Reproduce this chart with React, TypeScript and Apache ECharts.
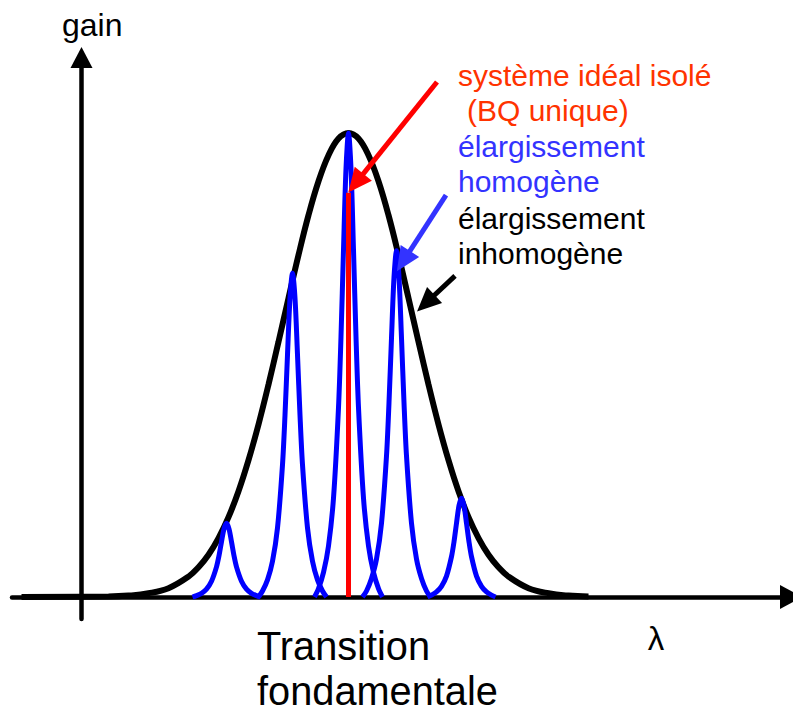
import React, { useEffect, useRef } from "react";
import * as echarts from "echarts";

// λ axis in arbitrary units, gain normalised to the envelope maximum (= 1)
const ENVELOPE: [number, number][] = [
  [-6.0, 0], [2.7, 0.001], [4.7, 0.003], [6.7, 0.008], [8.7, 0.019], [10.7, 0.044],
  [11.7, 0.064], [12.7, 0.091], [13.7, 0.127], [14.7, 0.172], [15.7, 0.228], [16.7, 0.295],
  [17.7, 0.372], [18.7, 0.458], [19.7, 0.55], [20.7, 0.644], [21.7, 0.737], [22.7, 0.823],
  [23.7, 0.896], [24.7, 0.952], [25.7, 0.988], [26.7, 1.0], [27.7, 0.988], [28.7, 0.952],
  [29.7, 0.896], [30.7, 0.823], [31.7, 0.737], [32.7, 0.644], [33.7, 0.55], [34.7, 0.458],
  [35.7, 0.372], [36.7, 0.295], [37.7, 0.228], [38.7, 0.172], [39.7, 0.127], [40.7, 0.091],
  [41.7, 0.064], [42.7, 0.044], [44.7, 0.019], [46.7, 0.008], [48.7, 0.003], [50.7, 0.001],
];

const PEAK_A: [number, number][] = [
  [11.1, 0], [11.5, 0.003], [12.0, 0.008], [12.5, 0.017], [13.0, 0.034], [13.5, 0.065],
  [13.75, 0.089], [14.0, 0.119], [14.25, 0.147], [14.5, 0.159], [14.75, 0.147], [15.0, 0.119],
  [15.25, 0.089], [15.5, 0.065], [16.0, 0.034], [16.5, 0.017], [17.0, 0.008], [17.5, 0.003], [17.9, 0],
];
const PEAK_B: [number, number][] = [
  [17.7, 0], [18.1, 0.013], [18.6, 0.037], [19.1, 0.077], [19.6, 0.149], [20.1, 0.285],
  [20.35, 0.392], [20.6, 0.522], [20.85, 0.644], [21.1, 0.698], [21.35, 0.644], [21.6, 0.522],
  [21.85, 0.392], [22.1, 0.285], [22.6, 0.149], [23.1, 0.077], [23.6, 0.037], [24.1, 0.013], [24.5, 0],
];
const PEAK_C: [number, number][] = [
  [23.3, 0], [23.7, 0.018], [24.2, 0.053], [24.7, 0.11], [25.2, 0.213], [25.7, 0.408],
  [25.95, 0.561], [26.2, 0.748], [26.45, 0.923], [26.7, 1.0], [26.95, 0.923], [27.2, 0.748],
  [27.45, 0.561], [27.7, 0.408], [28.2, 0.213], [28.7, 0.11], [29.2, 0.053], [29.7, 0.018], [30.1, 0],
];
const PEAK_D: [number, number][] = [
  [28.1, 0], [28.5, 0.013], [29.0, 0.04], [29.5, 0.082], [30.0, 0.159], [30.5, 0.304],
  [30.75, 0.419], [31.0, 0.558], [31.25, 0.689], [31.5, 0.746], [31.75, 0.689], [32.0, 0.558],
  [32.25, 0.419], [32.5, 0.304], [33.0, 0.159], [33.5, 0.082], [34.0, 0.04], [34.5, 0.013], [34.9, 0],
];
const PEAK_E: [number, number][] = [
  [34.6, 0], [35.0, 0.004], [35.5, 0.011], [36.0, 0.023], [36.5, 0.045], [37.0, 0.087],
  [37.25, 0.119], [37.5, 0.159], [37.75, 0.197], [38.0, 0.213], [38.25, 0.197], [38.5, 0.159],
  [38.75, 0.119], [39.0, 0.087], [39.5, 0.045], [40.0, 0.023], [40.5, 0.011], [41.0, 0.004], [41.4, 0],
];
const HOMOGENEOUS_PEAKS = [PEAK_A, PEAK_B, PEAK_C, PEAK_D, PEAK_E];

const IDEAL_LINE: [number, number][] = [[26.7, 0], [26.7, 0.871]];

// annotation arrows: start and end (data coordinates)
const ARROW_FROM: [number, number][] = [[35.55, 1.11], [36.45, 0.866], [37.35, 0.692]];
const ARROW_TO: [number, number][] = [[27.43, 0.892], [32.19, 0.724], [34.43, 0.633]];
const ARROW_COLORS = ["#ff0000", "#3333ff", "#000000"];

const X_MIN = -6.95;
const X_MAX = 70.95;
const Y_MIN = -0.0474;
const Y_MAX = 1.1627;

const NOTE_LINES = ["système idéal isolé", "(BQ unique)", "élargissement", "homogène", "élargissement", "inhomogène"];
const NOTE_COLORS = ["#ff3300", "#ff3300", "#3333ff", "#3333ff", "#000000", "#000000"];
const Y_LABEL = "gain";
const X_LABEL = "λ";
const CENTER_LABEL = ["Transition", "fondamentale"];

const FONT = '"Liberation Sans", Arial, Helvetica, sans-serif';

export default function App() {
  const ref = useRef<HTMLDivElement>(null);
  useEffect(() => {
    if (!ref.current) return;
    const chart = echarts.init(ref.current, null, { renderer: "svg" });

    const noteX = [458, 467, 458, 458, 458, 458];
    const noteY = [75, 110, 146, 181, 218, 253];

    const graphic: any[] = [
      ...NOTE_LINES.map((t, i) => ({
        type: "text",
        x: noteX[i],
        y: noteY[i],
        z: 100,
        style: { text: t, fontSize: 30, fontFamily: FONT, fill: NOTE_COLORS[i], align: "left", verticalAlign: "middle" },
      })),
      {
        type: "text", x: 62, y: 25, z: 100,
        style: { text: Y_LABEL, fontSize: 32, fontFamily: FONT, fill: "#000", align: "left", verticalAlign: "middle" },
      },
      {
        type: "text", x: 656, y: 638, z: 100,
        style: { text: X_LABEL, fontSize: 33, fontFamily: FONT, fill: "#000", align: "center", verticalAlign: "middle" },
      },
      ...CENTER_LABEL.map((t, i) => ({
        type: "text", x: 257, y: [646, 691][i], z: 100, scaleX: 0.97, scaleY: 1,
        style: { text: t, fontSize: 41, fontFamily: FONT, fill: "#000", align: "left", verticalAlign: "middle" },
      })),
    ];

    const series: any[] = [
      {
        type: "line", name: "inhomogène", data: ENVELOPE, smooth: 0.4, symbol: "none", showSymbol: false,
        lineStyle: { color: "#000", width: 6 }, itemStyle: { color: "#000" }, z: 2, silent: true, clip: false,
      },
      ...HOMOGENEOUS_PEAKS.map((p, i) => ({
        type: "line", name: "homogène " + (i + 1), data: p, smooth: 0.3, symbol: "none", showSymbol: false,
        lineStyle: { color: "#0000ff", width: 5 }, itemStyle: { color: "#0000ff" }, z: 3, silent: true, clip: false,
      })),
      {
        type: "line", name: "idéal", data: IDEAL_LINE, symbol: "none", showSymbol: false,
        lineStyle: { color: "#ff0000", width: 5 }, itemStyle: { color: "#ff0000" }, z: 4, silent: true, clip: false,
      },
      {
        type: "line", name: "arrows", data: [], symbol: "none", z: 6, silent: true,
        markLine: {
          silent: true,
          animation: false,
          symbol: ["none", "triangle"],
          symbolSize: [22, 24],
          label: { show: false },
          emphasis: { disabled: true },
          data: ARROW_FROM.map((f, i) => [
            { coord: f, lineStyle: { color: ARROW_COLORS[i], width: 5, type: "solid" }, itemStyle: { color: ARROW_COLORS[i] } },
            { coord: ARROW_TO[i] },
          ]),
        },
      },
    ];

    chart.setOption({
      animation: false,
      backgroundColor: "#ffffff",
      grid: { left: 12, right: 2, top: 57.5, bottom: 94, containLabel: false },
      xAxis: {
        type: "value", min: X_MIN, max: X_MAX,
        axisLine: { onZero: true, symbol: ["none", "triangle"], symbolSize: [24, 22], lineStyle: { color: "#000", width: 4.5 } },
        axisTick: { show: false }, axisLabel: { show: false }, splitLine: { show: false },
      },
      yAxis: {
        type: "value", min: Y_MIN, max: Y_MAX,
        axisLine: { show: true, onZero: true, symbol: ["none", "triangle"], symbolSize: [22, 21], lineStyle: { color: "#000", width: 4.5 } },
        axisTick: { show: false }, axisLabel: { show: false }, splitLine: { show: false },
      },
      series,
      graphic,
    });
    return () => chart.dispose();
  }, []);
  return <div ref={ref} style={{ position: "fixed", left: 0, top: 0, width: 793, height: 713, background: "#fff" }} />;
}
